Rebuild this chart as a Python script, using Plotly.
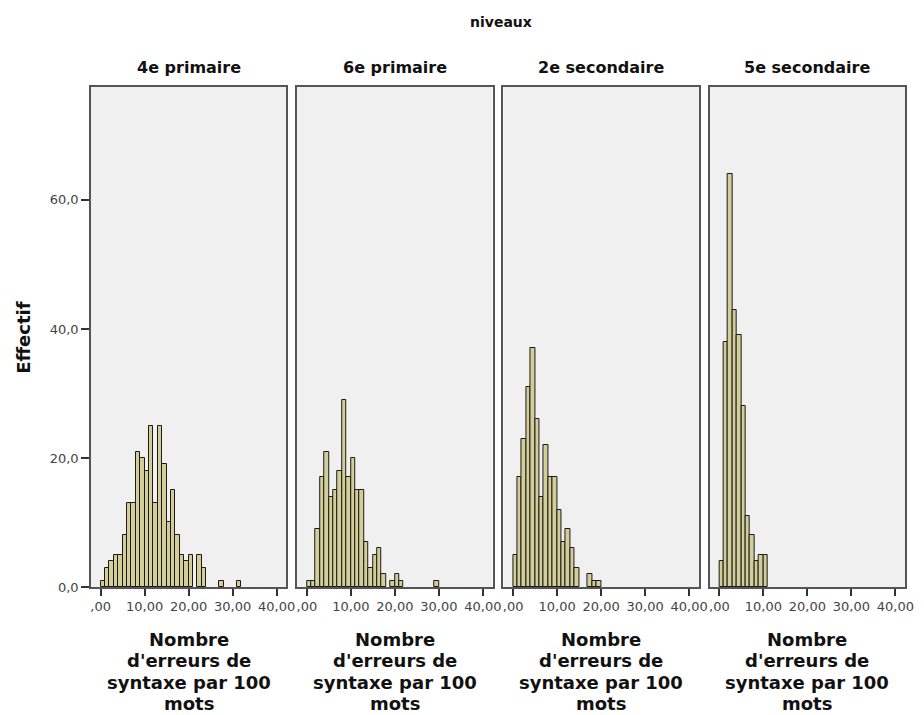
import plotly.graph_objects as go
from plotly.subplots import make_subplots

# facet categories (niveaux)
panels = ["4e primaire", "6e primaire", "2e secondaire", "5e secondaire"]

# histogram counts per 1-unit bin, starting at bin [0, 1)
counts_4e_primaire = [1, 3, 4, 5, 5, 8, 13, 13, 21, 20, 18, 25, 13, 25, 19, 10,
                      15, 8, 5, 4, 5, 0, 5, 3, 0, 0, 0, 1, 0, 0, 0, 1]
counts_6e_primaire = [1, 1, 9, 17, 21, 14, 15, 18, 29, 17, 20, 15, 15, 7, 3, 5,
                      6, 2, 0, 1, 2, 1, 0, 0, 0, 0, 0, 0, 0, 1]
counts_2e_secondaire = [5, 17, 23, 31, 37, 26, 14, 22, 17, 17, 12, 7, 9, 6, 3, 0,
                        0, 2, 1, 1]
counts_5e_secondaire = [4, 38, 64, 43, 39, 28, 11, 8, 4, 5, 5]
all_counts = [counts_4e_primaire, counts_6e_primaire, counts_2e_secondaire, counts_5e_secondaire]
bin_width = 1.0

x_tickvals = [0, 10, 20, 30, 40]
x_ticktext = [",00", "10,00", "20,00", "30,00", "40,00"]
y_tickvals = [0, 20, 40, 60]
y_ticktext = ["0,0", "20,0", "40,0", "60,0"]
x_title_lines = ["Nombre", "d'erreurs de", "syntaxe par 100", "mots"]

# the page body adds an 8px margin, so the figure is drawn 8px smaller and offset
PAGE = 8
W, H = 924 - PAGE, 715 - PAGE
ML, MR, MT = 91 - PAGE, 10, 87 - PAGE
plot_h = 500.5
MB = H - MT - plot_h
plot_w = W - ML - MR


def py(page_y):
    # page pixel row -> paper y
    return (MT + PAGE + plot_h - page_y) / plot_h


def px(page_x):
    return (page_x - PAGE - ML) / plot_w


fig = make_subplots(rows=1, cols=4, shared_yaxes=True, horizontal_spacing=11 / plot_w)

for i, counts in enumerate(all_counts):
    xs = [(k + 0.5) * bin_width for k, c in enumerate(counts) if c]
    ys = [c for c in counts if c]
    fig.add_trace(
        go.Bar(x=xs, y=ys, width=bin_width, name=panels[i],
               marker=dict(color="#D3CE97", line=dict(color="#1a1a1a", width=1))),
        row=1, col=i + 1,
    )

tick_font = dict(family="DejaVu Sans", size=13, color="#444444")
bold = dict(family="DejaVu Sans", color="#111111", weight="bold")

fig.update_xaxes(
    range=[-2.2, 42.2], tickvals=x_tickvals, ticktext=x_ticktext,
    ticks="outside", ticklen=7, tickwidth=1.5, tickcolor="#333333",
    showline=True, linecolor="#555555", linewidth=1.5, mirror=True,
    showgrid=False, zeroline=False, tickfont=tick_font, fixedrange=True,
)
fig.update_yaxes(
    range=[0, 77.5], showline=True, linecolor="#555555", linewidth=1.5, mirror=True,
    showgrid=False, zeroline=False, fixedrange=True,
)
fig.update_yaxes(tickvals=y_tickvals, ticktext=y_ticktext, ticks="outside", ticklen=8,
                 tickwidth=1.5, tickcolor="#333333", tickfont=tick_font, row=1, col=1)

annotations = [
    dict(text="niveaux", x=px(506), y=py(22), font=dict(bold, size=14)),
    dict(text="Effectif", x=px(22), y=0.5, textangle=-90, font=dict(bold, size=18)),
]
for i, name in enumerate(panels):
    dom = fig.layout["xaxis" if i == 0 else f"xaxis{i + 1}"].domain
    cx = (dom[0] + dom[1]) / 2
    annotations.append(dict(text=name, x=cx, y=py(67), font=dict(bold, size=16)))
    for j, line in enumerate(x_title_lines):
        annotations.append(dict(text=line, x=cx, y=py(640 + 21.3 * j), font=dict(bold, size=18)))

for a in annotations:
    a.update(xref="paper", yref="paper", showarrow=False, xanchor="center", yanchor="middle")

fig.update_layout(
    width=W, height=H,
    margin=dict(l=ML, r=MR, t=MT, b=MB),
    plot_bgcolor="#F0F0F0", paper_bgcolor="white",
    showlegend=False, bargap=0,
    annotations=annotations,
)

fig.write_html("out.html")
